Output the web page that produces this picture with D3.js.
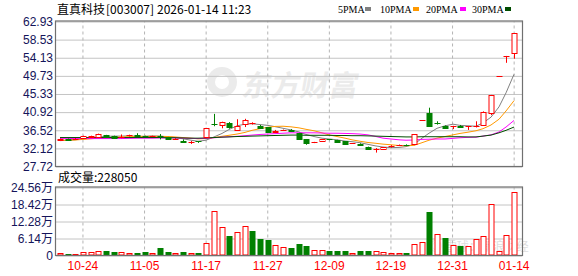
<!DOCTYPE html>
<html>
<head>
<meta charset="utf-8">
<script src="https://cdn.jsdelivr.net/npm/d3@7"></script>
<style>
  body { margin: 0; background: #fff; }
  svg { display: block; }
</style>
</head>
<body>
<div id="chart"></div>
<script>
// trading days shown (MM-DD)
var dates = ["10-21","10-22","10-23","10-24","10-27","10-28","10-29","10-30","10-31","11-03",
  "11-04","11-05","11-06","11-07","11-10","11-11","11-12","11-13","11-14","11-17",
  "11-18","11-19","11-20","11-21","11-24","11-25","11-26","11-27","11-28","12-01",
  "12-02","12-03","12-04","12-05","12-08","12-09","12-10","12-11","12-12","12-15",
  "12-16","12-17","12-18","12-19","12-22","12-23","12-24","12-25","12-26","12-29",
  "12-30","12-31","01-05","01-06","01-07","01-08","01-09","01-12","01-13","01-14"];

var open = [34.10,34.40,34.30,34.70,34.80,35.00,35.30,35.10,34.85,35.30,
  35.40,35.15,34.95,35.10,34.80,34.40,34.00,33.50,33.80,34.90,
  38.05,37.80,38.20,36.60,38.00,38.20,37.65,37.25,36.00,36.50,
  36.70,35.80,34.35,33.50,33.80,34.30,34.15,33.80,33.30,33.30,
  32.50,31.85,32.00,32.45,32.80,33.00,33.10,39.10,40.64,38.35,
  37.45,37.40,37.65,37.20,37.35,37.70,40.80,49.61,54.57,55.40];
var high = [34.50,34.50,34.60,35.20,35.20,35.70,35.40,35.20,35.50,35.45,
  35.80,35.20,35.20,35.60,34.90,34.60,34.30,33.90,33.90,37.00,
  40.50,38.60,38.50,39.20,39.30,38.45,37.80,37.30,36.60,36.70,
  36.80,35.90,34.40,33.70,34.35,34.40,34.20,33.85,33.40,33.35,
  32.55,32.20,32.45,32.90,33.05,33.10,35.60,39.10,42.00,38.70,
  37.70,37.60,37.80,37.50,38.70,41.10,45.10,49.61,54.57,60.03];
var low = [34.00,33.95,34.20,34.60,34.70,34.90,34.90,34.70,34.60,35.00,
  35.00,34.90,34.90,34.30,34.30,34.20,33.60,33.20,33.45,34.80,
  37.50,37.00,36.90,36.50,37.30,37.90,37.00,35.90,35.90,36.35,
  36.30,34.30,33.00,33.40,33.75,34.10,33.60,33.10,33.20,32.80,
  31.85,31.10,31.95,32.30,32.70,32.70,32.90,39.10,37.55,37.90,
  36.90,36.80,37.10,36.60,37.20,37.60,40.20,49.61,52.90,53.90];
var close = [34.40,34.10,34.45,35.05,35.10,35.60,35.00,34.75,35.00,35.40,
  35.10,35.00,35.10,34.85,34.40,34.50,33.70,33.75,33.55,36.95,
  37.90,38.45,37.25,37.60,39.00,38.40,37.15,36.00,36.45,36.55,
  36.40,34.45,33.40,33.60,34.30,34.20,33.70,33.25,33.35,32.90,
  31.90,31.95,32.40,32.70,32.95,32.85,35.55,39.10,37.63,38.25,
  37.05,37.55,37.30,37.45,37.55,41.00,45.10,49.61,54.57,60.03];
var prevClose = 34.20;

// volume, in 万 (10k lots)
var volume = [0.98,0.62,0.62,1.34,1.34,1.70,1.45,1.09,1.34,0.98,
  0.73,1.09,0.73,2.54,1.09,0.73,1.09,0.73,0.73,4.35,
  15.96,10.16,6.89,8.60,10.77,8.70,5.80,5.44,3.63,2.90,
  2.54,3.99,3.26,2.07,2.07,1.45,1.45,1.70,0.98,1.45,
  1.45,1.70,1.34,0.98,0.98,0.73,4.24,4.97,15.60,7.87,
  6.17,3.88,3.26,3.26,6.06,6.89,18.75,1.70,7.50,22.805];

// moving averages
var ma5 = [34.00,34.10,34.20,34.45,34.60,34.85,35.05,35.10,35.10,35.15,
  35.05,35.05,35.15,35.10,34.90,34.75,34.45,34.10,33.85,34.10,
  34.90,35.75,36.70,37.60,38.00,38.10,37.90,37.70,37.40,37.00,
  36.60,36.10,35.50,35.00,34.60,34.40,34.20,33.90,33.75,33.50,
  33.10,32.70,32.45,32.30,32.35,32.55,33.10,34.60,35.80,37.00,
  37.60,38.00,37.70,37.60,37.50,38.30,39.70,42.20,45.60,50.10];
var ma10 = [34.10,34.10,34.15,34.30,34.45,34.60,34.70,34.80,34.90,34.95,
  35.00,35.05,35.05,35.05,35.00,34.90,34.75,34.60,34.45,34.50,
  34.75,35.05,35.30,35.60,36.00,36.50,36.90,37.25,37.45,37.50,
  37.35,37.10,36.75,36.40,35.90,35.40,35.00,34.60,34.20,33.85,
  33.55,33.35,33.15,33.00,32.80,32.75,32.85,33.50,34.10,34.60,
  35.00,35.40,35.75,36.05,36.40,36.90,37.80,39.20,41.20,43.70];
var ma20 = [34.55,34.55,34.50,34.50,34.50,34.50,34.50,34.50,34.50,34.55,
  34.60,34.60,34.60,34.65,34.65,34.65,34.60,34.55,34.50,34.55,
  34.70,34.85,34.95,35.05,35.20,35.35,35.50,35.60,35.70,35.80,
  35.90,35.90,35.90,35.90,35.85,35.80,35.80,35.75,35.70,35.60,
  35.40,35.00,34.60,34.40,34.20,34.10,34.15,34.30,34.35,34.40,
  34.40,34.55,34.70,34.80,34.85,35.10,35.40,36.10,37.30,38.90];
var ma30 = [34.75,34.75,34.75,34.75,34.75,34.75,34.75,34.75,34.75,34.75,
  34.75,34.75,34.75,34.75,34.70,34.70,34.65,34.60,34.60,34.65,
  34.75,34.85,34.90,35.00,35.05,35.10,35.15,35.20,35.25,35.30,
  35.35,35.35,35.30,35.30,35.30,35.30,35.25,35.25,35.20,35.20,
  35.15,35.10,35.05,35.00,34.95,34.90,34.90,34.95,34.95,34.95,
  34.95,34.95,34.95,34.90,34.90,35.10,35.35,35.90,36.50,37.30];

var priceTicks = [27.72,32.12,36.52,40.92,45.33,49.73,54.13,58.53,62.93];
var volTicks = [0,6.14,12.28,18.42,24.56];
var dateTicks = ["10-24","11-05","11-17","11-27","12-09","12-19","12-31","01-14"];

var maNames = ["5PMA","10PMA","20PMA","30PMA"];
var maColors = ["#808080","#ff9900","#ff00ff","#004d00"];
var maSeries = [ma5, ma10, ma20, ma30];

var width = 578, height = 276;
var left = 56, right = 522;
var pTop = 21.5, pBottom = 166.5;
var vTop = 187.5, vBottom = 255.5;
var RED = "#ff0000", GREEN = "#008000";
var NUM_FONT = "'Liberation Sans', Arial, sans-serif";
var CJK_FONT = "'Noto Sans CJK SC', sans-serif";

var svg = d3.select("#chart").append("svg")
    .attr("width", width)
    .attr("height", height);

// scales
var x = d3.scaleBand().domain(dates).range([left, 518]);
var cx = function(d) { return Math.round(x(d) + x.bandwidth() / 2); };
var yP = d3.scaleLinear().domain([27.72, 62.93]).range([pBottom, pTop]);
var yV = d3.scaleLinear().domain([0, 24.56]).range([vBottom, vTop]);

// watermark logo in the price panel
var wm = svg.append("g").attr("fill", "#ebebeb");
wm.append("circle").attr("cx", 222).attr("cy", 82).attr("r", 15);
wm.append("circle").attr("cx", 222).attr("cy", 82).attr("r", 7).attr("fill", "#fff");
wm.append("text")
    .attr("x", 242).attr("y", 96)
    .attr("font-family", CJK_FONT)
    .attr("font-weight", "bold")
    .attr("font-size", 29)
    .attr("transform", "skewX(-10)")
    .attr("dx", 16)
    .text("东方财富");

// bottom-right watermark (kept above the date labels)
svg.append("text")
    .attr("x", 430).attr("y", 251)
    .attr("font-family", CJK_FONT)
    .attr("font-size", 12)
    .attr("fill", "#dedede")
    .text("◎ 雪球：新浪财经");

// horizontal grid lines
svg.append("g")
    .attr("transform", "translate(" + left + ",0)")
    .call(d3.axisLeft(yP).tickValues(priceTicks).tickSize(-(right - left)).tickFormat(""))
    .call(function(g) { g.select(".domain").remove(); })
    .selectAll("line").attr("stroke", "#c4c4c4");

svg.append("g")
    .attr("transform", "translate(" + left + ",0)")
    .call(d3.axisLeft(yV).tickValues(volTicks).tickSize(-(right - left)).tickFormat(""))
    .call(function(g) { g.select(".domain").remove(); })
    .selectAll("line").attr("stroke", "#c4c4c4");

// vertical dashed grid lines
[[pTop, pBottom], [vTop, vBottom]].forEach(function(p) {
    svg.append("g")
        .attr("transform", "translate(0," + p[1] + ")")
        .call(d3.axisBottom(x).tickValues(dateTicks).tickSize(-(p[1] - p[0])).tickFormat(""))
        .call(function(g) { g.select(".domain").remove(); })
        .selectAll("line")
        .attr("stroke", "#b4b4b4")
        .attr("stroke-dasharray", "3,3");
});

// MA lines
var maG = svg.append("g");
maSeries.forEach(function(s, k) {
    var line = d3.line()
        .x(function(d, i) { return cx(dates[i]); })
        .y(function(d) { return yP(d); });
    maG.append("path")
        .datum(s)
        .attr("fill", "none")
        .attr("stroke", maColors[k])
        .attr("stroke-width", 1)
        .attr("d", line);
});

// candles
var candles = svg.append("g");
dates.forEach(function(d, i) {
    var o = open[i], c = close[i], h = high[i], l = low[i];
    var xc = cx(d) + 0.5;
    var up = c >= o;
    var col = up ? RED : GREEN;
    candles.append("line")
        .attr("x1", xc).attr("x2", xc)
        .attr("y1", yP(h)).attr("y2", yP(l))
        .attr("stroke", col);
    var y1 = yP(Math.max(o, c)), y2 = yP(Math.min(o, c));
    if (y2 - y1 < 1.2) {
        candles.append("line")
            .attr("x1", xc - 3).attr("x2", xc + 3)
            .attr("y1", Math.round(y1) + 0.5).attr("y2", Math.round(y1) + 0.5)
            .attr("stroke", col);
    } else {
        candles.append("rect")
            .attr("x", xc - 2.5).attr("width", 5)
            .attr("y", Math.round(y1) + 0.5).attr("height", Math.round(y2) - Math.round(y1))
            .attr("fill", up ? "#fff" : GREEN)
            .attr("stroke", col);
    }
});

// volume bars
var bars = svg.append("g");
dates.forEach(function(d, i) {
    var pc = i === 0 ? prevClose : close[i - 1];
    var up = close[i] >= pc;
    var xc = cx(d) + 0.5;
    var top = Math.round(yV(volume[i])) + 0.5;
    bars.append("rect")
        .attr("x", xc - 2.5).attr("width", 5)
        .attr("y", top).attr("height", Math.max(0.5, vBottom - 0.5 - top))
        .attr("fill", up ? "#fff" : GREEN)
        .attr("stroke", up ? RED : GREEN);
});

// panel borders
[[pTop, pBottom], [vTop, vBottom]].forEach(function(p) {
    svg.append("rect")
        .attr("x", left - 0.5).attr("y", p[0] - 0.5)
        .attr("width", right - left + 1).attr("height", p[1] - p[0] + 0.5)
        .attr("fill", "none")
        .attr("stroke", "#707070")
        .attr("stroke-width", 1.2);
});

// y axis labels
svg.append("g")
    .attr("transform", "translate(" + left + ",0)")
    .call(d3.axisLeft(yP).tickValues(priceTicks).tickSize(0).tickPadding(3).tickFormat(d3.format(".2f")))
    .call(function(g) { g.select(".domain").remove(); })
    .selectAll("text")
    .attr("font-family", NUM_FONT)
    .attr("font-size", 12)
    .attr("fill", "#14145a");

svg.append("g")
    .attr("transform", "translate(" + left + ",0)")
    .call(d3.axisLeft(yV).tickValues(volTicks).tickSize(0).tickPadding(3)
        .tickFormat(function(v) { return v === 0 ? "0" : d3.format(".2f")(v) + "万"; }))
    .call(function(g) { g.select(".domain").remove(); })
    .selectAll("text")
    .attr("font-family", NUM_FONT + ", " + CJK_FONT)
    .attr("font-size", 12)
    .attr("fill", "#14145a");

// date labels
svg.append("g")
    .attr("transform", "translate(0," + vBottom + ")")
    .call(d3.axisBottom(x).tickValues(dateTicks).tickSize(0).tickPadding(6))
    .call(function(g) { g.select(".domain").remove(); })
    .selectAll("text")
    .attr("font-family", NUM_FONT)
    .attr("font-size", 12)
    .attr("fill", RED);

// title
var title = svg.append("text")
    .attr("y", 14)
    .attr("font-family", CJK_FONT)
    .attr("font-size", 12)
    .attr("fill", "#000");
title.append("tspan").attr("x", 57).text("直真科技");
title.append("tspan").attr("x", 106).text("[003007]");
title.append("tspan").attr("x", 157).text("2026-01-14 11:23");

// legend
var legX = [338, 380, 426, 472];
var legSq = [365, 413, 460, 505];
maNames.forEach(function(n, k) {
    svg.append("text")
        .attr("x", legX[k]).attr("y", 13)
        .attr("font-family", "'Liberation Serif', serif")
        .attr("font-size", 10)
        .attr("fill", "#000")
        .text(n);
    svg.append("rect")
        .attr("x", legSq[k]).attr("y", 7)
        .attr("width", 6).attr("height", 4)
        .attr("fill", maColors[k]);
});

// volume header
svg.append("text")
    .attr("x", 58).attr("y", 182)
    .attr("font-family", CJK_FONT)
    .attr("font-size", 12)
    .attr("fill", "#000")
    .text("成交量:" + d3.format("d")(Math.round(volume[volume.length - 1] * 10000)));
</script>
</body>
</html>
